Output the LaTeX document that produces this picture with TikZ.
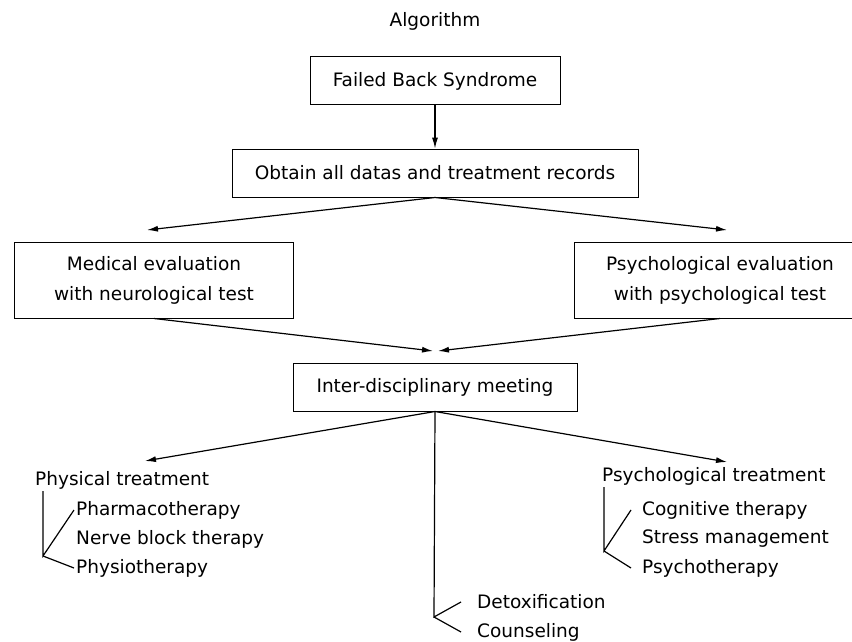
\documentclass[tikz,border=0pt]{standalone}
\usepackage{fontspec}
\setmainfont{DejaVu Sans}
\usetikzlibrary{arrows.meta, positioning}

\begin{document}
\begin{tikzpicture}[
  x=1pt, y=-1pt,
  font=\fontsize{18.5}{30}\selectfont,
  node distance=43pt,
  arrow/.style={-{Latex[length=11pt,width=6pt]}, line width=1.2pt},
  link/.style={line width=1.2pt},
  box/.style={rectangle, draw, line width=1pt, align=center, minimum height=48pt, inner sep=0pt},
  item/.style={anchor=west, inner sep=2pt}
]
\useasboundingbox (0,0) rectangle (852,642);

\node (title) at (435,21) {Algorithm};
\node[box, minimum width=250pt] (fbs) at (435,81) {Failed Back Syndrome};
\node[box, minimum width=406pt, below=of fbs] (obtain) {Obtain all datas and treatment records};

\node[box, minimum width=279pt, minimum height=76pt] (medical) at (154,280)
{Medical evaluation\\with neurological test};
\node[box, minimum width=292pt, minimum height=76pt] (psyeval) at (720,280)
{Psychological evaluation\\with psychological test};

\node[box, minimum width=284pt] (meeting) at (435,387) {Inter-disciplinary meeting};

% treatment lists
\node[item] (phys) at (33,480) {Physical treatment};
\node[item] (pharm) at (74,510) {Pharmacotherapy};
\node[item, below=29pt of pharm.west, anchor=west] (nerve) {Nerve block therapy};
\node[item, below=29pt of nerve.west, anchor=west] (physio) {Physiotherapy};

\node[item] (psytreat) at (600,476) {Psychological treatment};
\node[item] (cognit) at (640,510) {Cognitive therapy};
\node[item, below=29pt of cognit.west, anchor=west] (stress) {Stress management};
\node[item, below=29pt of stress.west, anchor=west] (psyther) {Psychotherapy};

\node[item] (detox) at (475,602) {Detoxification};
\node[item, below=30pt of detox.west, anchor=west] (counsel) {Counseling};

% free arrow ends
\coordinate (medin) at (147,230);
\coordinate (psyin) at (727,230);
\coordinate (meetl) at (433,351);
\coordinate (meetr) at (438,351);
\coordinate (physin) at (145,461);
\coordinate (psytin) at (727,462);
\coordinate (physfork) at (43,556);
\coordinate (psyfork) at (604,551);
\coordinate (carefork) at (434,617);

\draw[arrow] (fbs) -- (obtain);
\draw[arrow] (obtain.south) -- (medin);
\draw[arrow] (obtain.south) -- (psyin);
\draw[arrow] (medical.south) -- (meetl);
\draw[arrow] (psyeval.south) -- (meetr);
\draw[arrow] (meeting.south) -- (physin);
\draw[arrow] (meeting.south) -- (psytin);

\draw[link] (physfork |- phys.south) -- (physfork) -- (pharm.west);
\draw[link] (physfork) -- (physio.west);
\draw[link] (psyfork |- psytreat.south) -- (psyfork) -- ([xshift=-9pt]cognit.west);
\draw[link] (psyfork) -- ([xshift=-9pt]psyther.west);
\draw[link] (meeting.south) -- (carefork) -- ([xshift=-14pt]detox.west);
\draw[link] (carefork) -- ([xshift=-14pt]counsel.west);

\end{tikzpicture}
\end{document}
